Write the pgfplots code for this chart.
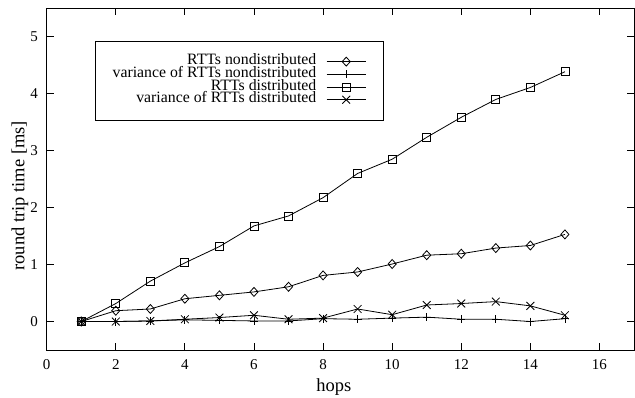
\documentclass[border=0pt]{standalone}
\usepackage{fontspec}
\setmainfont{Liberation Serif}
\usepackage{pgfplots}
\pgfplotsset{compat=1.18}
\begin{document}
\begin{tikzpicture}[font=\fontsize{15bp}{17bp}\selectfont]
\useasboundingbox (-46.7bp,-48bp) rectangle (588.3bp,350bp);
\begin{axis}[
  scale only axis, width=587.3bp, height=341.7bp,
  xmin=0, xmax=17, ymin=-0.5, ymax=5.5,
  xtick={0,2,...,16}, ytick={0,1,...,5},
  tick align=inside, major tick length=7bp,
  tick style={black, line width=0.8bp},
  axis line style={line width=0.8bp},
  ticklabel style={inner sep=0pt, font=\fontsize{15bp}{17bp}\selectfont},
  xticklabel shift=9bp, yticklabel shift=8.7bp,
  xlabel={hops}, ylabel={round trip time [ms]},
  xlabel style={at={(rel axis cs:0.489,0)}, anchor=base, yshift=-41.7bp, inner sep=0pt, font=\fontsize{18.5bp}{20bp}\selectfont},
  ylabel style={at={(rel axis cs:0,0.4516)}, anchor=center, yshift=26.7bp, inner sep=0pt, font=\fontsize{18.5bp}{20bp}\selectfont},
  /pgf/number format/assume math mode=true,
  legend plot pos=right,
  legend cell align=right,
  legend style={at={(rel axis cs:0.0822,0.905)}, anchor=north west, draw=black, line width=0.8bp,
    inner xsep=14bp, inner ysep=14bp, row sep=0pt, column sep=10bp,
    minimum width=288bp, minimum height=79bp,
    font=\fontsize{15.8bp}{17bp}\selectfont,
    nodes={inner sep=0pt, text height=9.5bp, text depth=3.2bp, minimum width=0pt, minimum height=0pt}},
  legend image code/.code={\draw[mark repeat=2,mark phase=2,#1] plot coordinates {(0bp,0bp) (19.5bp,0bp) (39bp,0bp)};},
  every axis plot/.append style={black, line width=0.8bp, mark options={solid, line width=0.8bp}},
]
\addplot[mark=diamond, mark size=4.5bp, mark options={xscale=1.2}] coordinates {
(1,0) (2,0.19) (3,0.22) (4,0.40) (5,0.46) (6,0.52) (7,0.61) (8,0.81) (9,0.87) (10,1.01) (11,1.165) (12,1.19) (13,1.29) (14,1.335) (15,1.53)};
\addlegendentry{RTTs nondistributed}
\addplot[mark=+, mark size=4bp] coordinates {
(1,0) (2,0.0) (3,0.01) (4,0.03) (5,0.02) (6,0.01) (7,0.01) (8,0.05) (9,0.04) (10,0.06) (11,0.077) (12,0.04) (13,0.04) (14,0.0) (15,0.05)};
\addlegendentry{variance of RTTs nondistributed}
\addplot[mark=square, mark size=4bp] coordinates {
(1,0) (2,0.316) (3,0.709) (4,1.03) (5,1.316) (6,1.679) (7,1.854) (8,2.175) (9,2.60) (10,2.85) (11,3.235) (12,3.586) (13,3.90) (14,4.11) (15,4.386)};
\addlegendentry{RTTs distributed}
\addplot[mark=x, mark size=5.5bp] coordinates {
(1,0) (2,0.0) (3,0.01) (4,0.04) (5,0.07) (6,0.11) (7,0.04) (8,0.06) (9,0.22) (10,0.12) (11,0.29) (12,0.316) (13,0.35) (14,0.275) (15,0.11)};
\addlegendentry{variance of RTTs distributed}
\end{axis}
\end{tikzpicture}
\end{document}
